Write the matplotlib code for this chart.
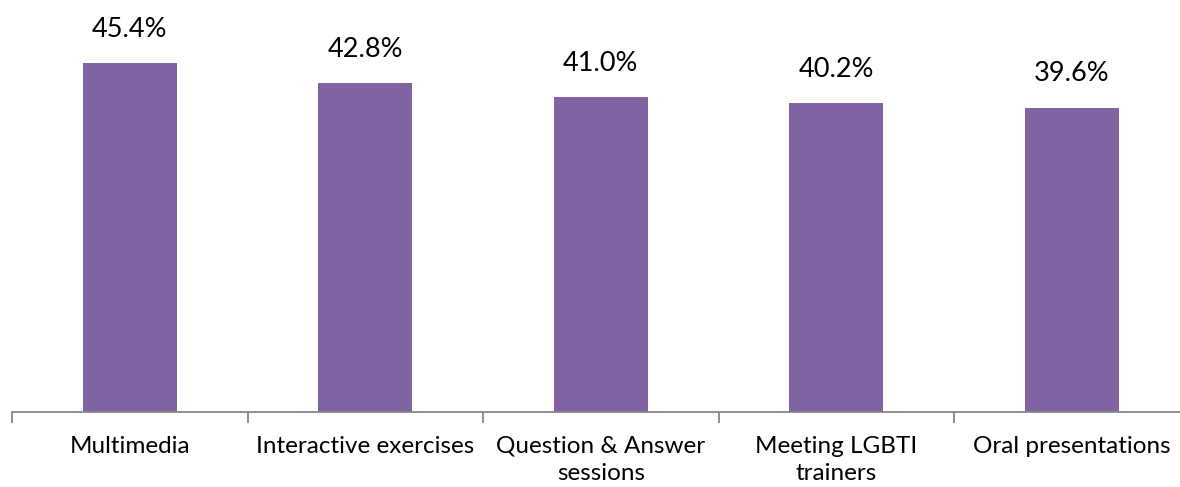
import matplotlib.pyplot as plt
import numpy as np

categories = ["Multimedia", "Interactive exercises", "Question & Answer\nsessions",
              "Meeting LGBTI\ntrainers", "Oral presentations"]
values = [45.4, 42.8, 41.0, 40.2, 39.6]

plt.rcParams['font.family'] = ['Lato', 'DejaVu Sans']

fig = plt.figure(figsize=(11.8, 4.87), dpi=100)
# axes spans the five category slots; the last slot runs just past the right edge
ax = fig.add_axes([12 / 1180, (487 - 412) / 487, 5 * 235.5 / 1180, 384 / 487])

x = np.arange(len(categories))
bars = ax.bar(x, values, width=0.4, color="#8064A2")

for xi, v in zip(x, values):
    ax.text(xi, v + 2.8, f"{v:.1f}%", ha="center", va="bottom", fontsize=19.5, color="black")

ax.set_xlim(-0.5, len(categories) - 0.5)
ax.set_ylim(0, 50)
ax.set_xticks(x)
ax.set_xticklabels(categories, fontsize=17.5, linespacing=1.4)
ax.tick_params(axis="x", which="major", length=0, pad=17)
ax.set_xticks(np.arange(-0.5, len(categories)), minor=True)
ax.tick_params(axis="x", which="minor", length=8, width=1.3, color="#868686")
ax.set_yticks([])

for side in ["top", "right", "left"]:
    ax.spines[side].set_visible(False)
ax.spines["bottom"].set_color("#868686")
ax.spines["bottom"].set_linewidth(1.3)

fig.savefig("out.png", dpi=100)
